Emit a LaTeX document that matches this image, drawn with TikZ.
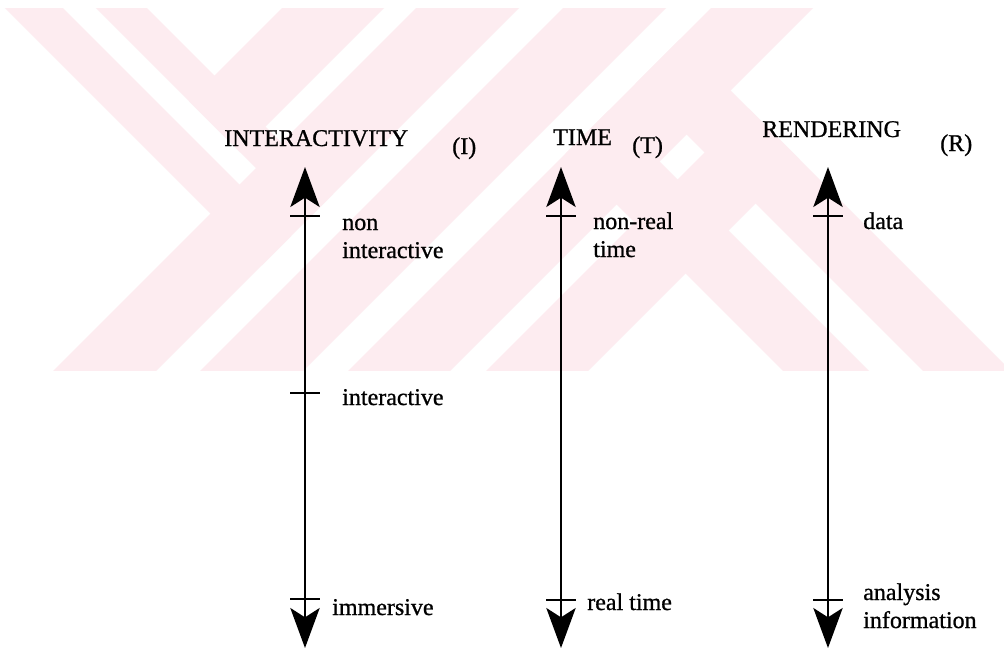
\documentclass[tikz,border=0pt]{standalone}
\usepackage{fontspec}
\setmainfont{Liberation Serif}
\newfontfamily\scanfont{Liberation Serif}[FakeBold=0.9]
\usetikzlibrary{arrows.meta}
\definecolor{wmpink}{RGB}{253,236,240}
\begin{document}
\begin{tikzpicture}[x=0.75pt,y=-0.75pt,
  axisline/.style={line width=1.5pt,
    {Stealth[length=30pt,width=22pt,inset=7pt]}-{Stealth[length=30pt,width=22pt,inset=7pt]}},
  tickline/.style={line width=1.5pt},
  lbl/.style={anchor=base west, inner sep=0pt, font=\scanfont\fontsize{18}{21}\selectfont},
  wm/.style={fill=wmpink, draw=none}]
\fill[white] (0,0) rectangle (1004,650);
\useasboundingbox (0,0) rectangle (1004,650);
% watermark
\begin{scope}
\clip (0,8) rectangle (1004,370);
\fill[wm] (-3,0) -- (55,0) -- (291,236) -- (262,265) -- cycle;
\fill[wm] (88,0) -- (139,0) -- (333,194) -- (307.5,219.5) -- cycle;
\fill[wm] (290,0) -- (392,0) -- (240,152) -- (189,101) -- cycle;
\fill[wm] (424,0) -- (527,0) -- (147,380) -- (44,380) -- cycle;
\fill[wm] (571,0) -- (674,0) -- (294,380) -- (191,380) -- cycle;
\fill[wm] (719,0) -- (821,0) -- (441,380) -- (339,380) -- cycle;
\fill[wm] (748.5,108.5) -- (799.5,159.5) -- (579,380) -- (477,380) -- cycle;
\fill[wm] (565.5,153.5) -- (608.5,110.5) -- (878,380) -- (792,380) -- cycle;
\fill[wm] (635.5,83.5) -- (679.5,39.5) -- (1020,380) -- (932,380) -- cycle;
\end{scope}
% axes
\coordinate (Itop) at (305,167); \coordinate (Ibot) at (305,648);
\coordinate (Ttop) at (561,167); \coordinate (Tbot) at (561,648);
\coordinate (Rtop) at (828,167); \coordinate (Rbot) at (828,648);
\draw[axisline] (Ibot) -- (Itop);
\draw[axisline] (Tbot) -- (Ttop);
\draw[axisline] (Rbot) -- (Rtop);
% ticks
\coordinate (I1) at (305,216); \coordinate (I2) at (305,393); \coordinate (I3) at (305,599);
\coordinate (T1) at (561,216); \coordinate (T3) at (561,600);
\coordinate (R1) at (828,216); \coordinate (R3) at (828,600);
\foreach \c in {I1,I2,I3,T1,T3,R1,R3}
  \draw[tickline] ([xshift=-11.25pt]\c) -- ([xshift=11.25pt]\c);
% headings
\node[lbl] (hI) at (224,146) {INTERACTIVITY};
\node[lbl] (hIx) at (452,154) {(I)};
\node[lbl] (hT) at (553,145) {TIME};
\node[lbl] (hTx) at (632,153) {(T)};
\node[lbl] (hR) at (762,137) {RENDERING};
\node[lbl] (hRx) at (940,151) {(R)};
% labels
\node[lbl] (nI1a) at (342,230) {non};
\node[lbl] (nI1b) at (342,258) {interactive};
\node[lbl] (nI2) at (342,405) {interactive};
\node[lbl] (nI3) at (332,615) {immersive};
\node[lbl] (nT1a) at (593,229) {non-real};
\node[lbl] (nT1b) at (593,257) {time};
\node[lbl] (nT3) at (587,610) {real time};
\node[lbl] (nR1) at (863,229) {data};
\node[lbl] (nR3a) at (863,600) {analysis};
\node[lbl] (nR3b) at (863,628) {information};
\end{tikzpicture}
\end{document}
